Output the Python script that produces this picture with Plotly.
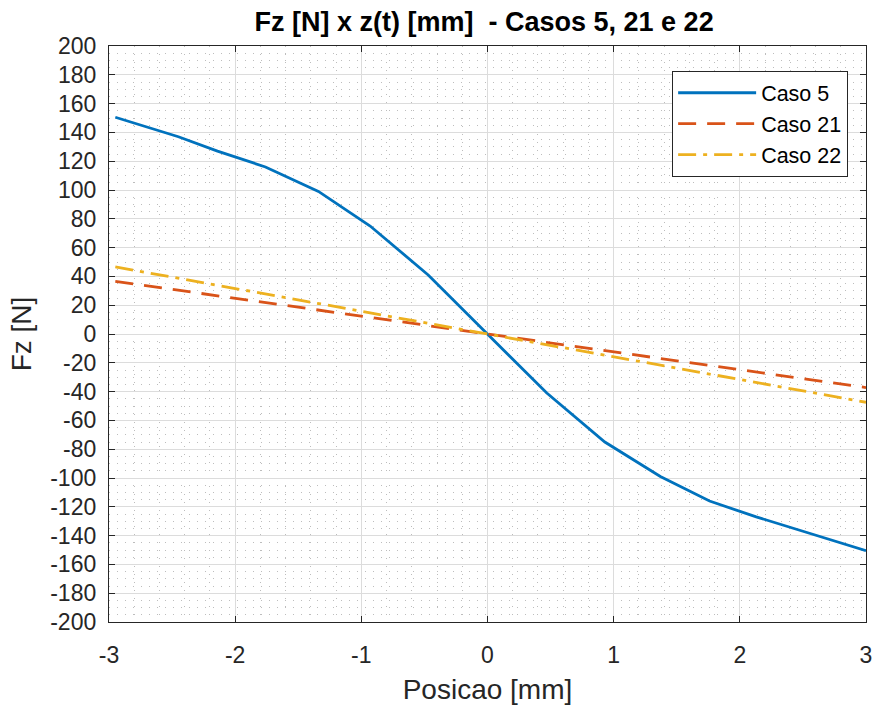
import plotly.graph_objects as go

# posicao [mm]
posicao = [-2.95, -2.45, -2.14, -1.76, -1.34, -0.93, -0.47, 0.0,
           0.47, 0.93, 1.37, 1.76, 2.13, 2.5, 3.0]

# Fz [N]
caso5 = [150.5, 137.0, 127.0, 116.0, 99.0, 75.0, 41.0, 0.0,
         -41.0, -75.0, -99.0, -116.0, -127.0, -137.0, -150.5]
caso21 = [36.6, 30.4, 26.5, 21.8, 16.6, 11.5, 5.8, 0.0,
          -5.8, -11.5, -17.0, -21.8, -26.4, -31.0, -37.2]
caso22 = [46.6, 38.7, 33.8, 27.8, 21.2, 14.7, 7.4, 0.0,
          -7.4, -14.7, -21.6, -27.8, -33.7, -39.5, -47.4]

xticks = [-3, -2, -1, 0, 1, 2, 3]
yticks = list(range(-200, 201, 20))

font = "Liberation Sans, Arial, sans-serif"
axcol = "#262626"

fig = go.Figure()
fig.add_trace(go.Scatter(x=posicao, y=caso5, mode="lines", name="Caso 5",
                         line=dict(color="#0072BD", width=2.8)))
fig.add_trace(go.Scatter(x=posicao, y=caso21, mode="lines", name="Caso 21",
                         line=dict(color="#D95319", width=2.8, dash="18px,11px")))
fig.add_trace(go.Scatter(x=posicao, y=caso22, mode="lines", name="Caso 22",
                         line=dict(color="#EDB120", width=2.8, dash="18px,7px,4px,7px")))

axis_common = dict(
    showline=True, linecolor=axcol, linewidth=1.3, mirror="ticks",
    ticks="inside", ticklen=6, tickcolor=axcol,
    showgrid=True, gridcolor="#dcdcdc", gridwidth=1,
    zeroline=False, automargin=False,
    tickfont=dict(family=font, size=23, color=axcol),
)

fig.update_xaxes(
    range=[-3, 3], tickvals=xticks, ticktext=[str(v) for v in xticks],
    ticklabelstandoff=12, **axis_common,
    title=dict(text="Posicao [mm]", font=dict(family=font, size=28, color=axcol), standoff=14),
    minor=dict(dtick=0.2, showgrid=True, griddash="1px,7px", gridcolor="#bdbdbd", gridwidth=1, ticks=""),
)
fig.update_yaxes(
    range=[-200, 200], tickvals=yticks, ticktext=[str(v) for v in yticks],
    ticklabelstandoff=7, **axis_common,
    title=dict(text="Fz [N]", font=dict(family=font, size=28, color=axcol), standoff=10),
    minor=dict(dtick=5, showgrid=True, griddash="1px,7px", gridcolor="#bdbdbd", gridwidth=1, ticks=""),
)

fig.update_layout(
    width=877, height=705,
    margin=dict(l=109, r=11, t=46, b=83),
    plot_bgcolor="white", paper_bgcolor="white",
    title=dict(text="<b>Fz [N] x z(t) [mm]  - Casos 5, 21 e 22</b>",
               font=dict(family=font, size=27, color="black"),
               x=0.552, xanchor="center", y=0.969, yanchor="middle"),
    legend=dict(x=0.976, y=0.9566, xanchor="right", yanchor="top",
                bgcolor="white", bordercolor=axcol, borderwidth=1.3,
                font=dict(family=font, size=21.5, color="black"),
                itemwidth=78, tracegroupgap=0),
    showlegend=True,
)

# page margin off so the figure fills the window
fig.write_html("out.html", config={"displayModeBar": False},
               post_script="document.body.style.margin='0';document.body.style.overflow='hidden';")
